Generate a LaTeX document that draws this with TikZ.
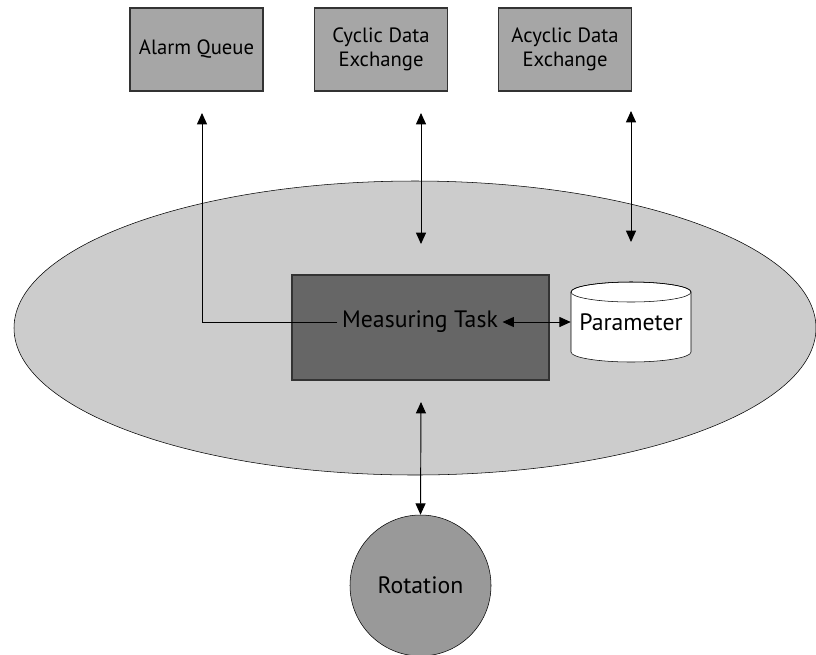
\documentclass[tikz,border=0pt]{standalone}
\usepackage{fontspec}
\setmainfont{PT Sans}
\usetikzlibrary{shapes.geometric,arrows.meta}
\definecolor{boxgray}{RGB}{166,166,166}
\definecolor{devgray}{RGB}{204,204,204}
\definecolor{taskgray}{RGB}{102,102,102}
\definecolor{rotgray}{RGB}{153,153,153}

\begin{document}
\begin{tikzpicture}[x=0.75pt,y=-0.75pt,
  font=\fontsize{15.5}{18}\selectfont,
  big/.style={font=\fontsize{17.8}{21}\selectfont},
  outer box/.style={draw=black!80, line width=0.9pt, fill=boxgray, minimum width=99.75pt, minimum height=62.25pt, align=center, inner sep=0pt},
  link/.style={line width=0.7pt, -{Triangle[width=7.5pt,length=8.5pt]}},
  dlink/.style={line width=0.7pt, {Triangle[width=7.5pt,length=8.5pt]}-{Triangle[width=7.5pt,length=8.5pt]}}]
\useasboundingbox (0,0) rectangle (816,654);

\node [ellipse, draw, fill=devgray, minimum width=601.5pt, minimum height=220.5pt] (device) at (415,328) {};

\node [outer box] (alarm) at (196.5,49.5) {Alarm Queue};
\node [outer box] (cyclic) at (381,49.5) {Cyclic Data\\Exchange};
\node [outer box] (acyclic) at (565,49.5) {Acyclic Data\\Exchange};

\node [draw=black!80, line width=0.9pt, fill=taskgray, minimum width=192.75pt, minimum height=78.75pt] (task) at (420.5,327.5) {};
\node [big] (tasklbl) at (420,322) {Measuring Task};

\draw [fill=white] (571,292) -- (571,352) arc [start angle=180, end angle=0, x radius=60, y radius=10]
  -- (691,292) arc [start angle=0, end angle=-180, x radius=60, y radius=10] -- cycle;
\draw (631,292) ellipse [x radius=60, y radius=10];
\node [big, minimum width=90pt, minimum height=60pt, inner sep=0pt] (param) at (631,322) {Parameter};

\node [big, circle, draw, fill=rotgray, minimum size=105.75pt, inner sep=0pt] (rotation) at (420.5,585.5) {Rotation};

\coordinate (alarmend) at (202,113);
\coordinate (cyclicend) at (421,113);
\coordinate (cyclicin) at (421,244);
\coordinate (acyclicend) at (631,111);
\coordinate (acyclicin) at (631,242);
\coordinate (rotin) at (421,402);

\draw [link] (tasklbl.west) -| (alarmend);
\draw [dlink] (cyclicend) -- (cyclicin);
\draw [dlink] (acyclicend) -- (acyclicin);
\draw [dlink] (tasklbl.east) -- (param.west);
\draw [dlink] (rotin) -- (rotation.north);

\end{tikzpicture}
\end{document}
